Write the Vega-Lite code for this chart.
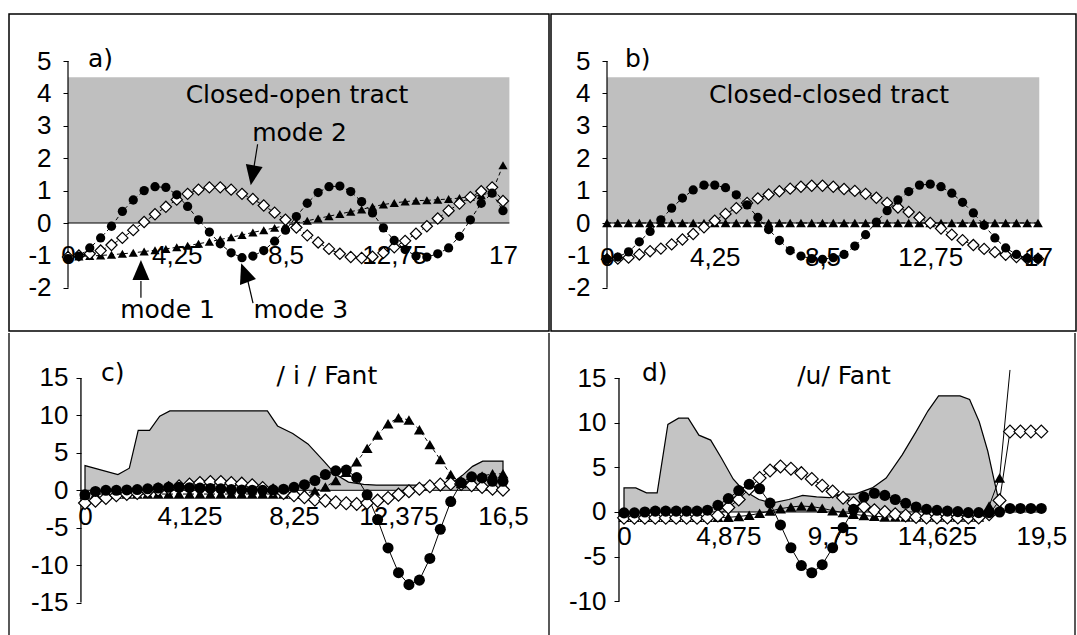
{
 "$schema": "https://vega.github.io/schema/vega-lite/v6.json",
 "padding": {"left": 8, "top": 13, "right": 0, "bottom": 0},
 "background": "white",
 "config": {
  "view": {"stroke": "black", "strokeWidth": 1.5},
  "axis": {"grid": false, "labelFont": "Liberation Sans", "labelFontSize": 26, "labelColor": "black", "tickColor": "black", "tickWidth": 1, "labelOverlap": false, "labelFlush": false, "labelBound": false},
  "text": {"font": "DejaVu Sans", "fontSize": 25, "color": "black"}
 },
 "spacing": 0,
 "vconcat": [
  {"spacing": 0, "hconcat": [
   {
    "width": 540, "height": 317,
    "data": {"name": "a"},
    "encoding": {
     "x": {"field": "x", "type": "quantitative", "scale": {"domain": [-2.306, 18.798], "nice": false, "zero": false},
      "axis": {"title": null, "orient": "bottom", "offset": -108, "values": [0, 4.25, 8.5, 12.75, 17], "ticks": false, "domain": false, "labelPadding": 19, "labelExpr": "replace(toString(datum.value), '.', ',')"}},
     "y": {"field": "y", "type": "quantitative", "scale": {"domain": [-3.333, 6.451], "nice": false, "zero": false},
      "axis": {"title": null, "orient": "left", "offset": -59, "values": [-2, -1, 0, 1, 2, 3, 4, 5], "tickSize": 5, "domain": false, "labelPadding": 12, "labelExpr": "toString(datum.value)"}}
    },
    "layer": [
     {"data": {"values": [{"x": 0, "x2": 17.25, "y": 0, "y2": 4.5}]}, "mark": {"type": "rect", "color": "#bfbfbf"}, "encoding": {"x2": {"field": "x2"}, "y2": {"field": "y2"}}},
     {"data": {"values": [{"x": 0, "x2": 17.25, "y": 0}]}, "mark": {"type": "rule", "color": "black", "strokeWidth": 1.2}, "encoding": {"x2": {"field": "x2"}}},
     {"data": {"values": [{"x": 0, "y": -2, "y2": 5}]}, "mark": {"type": "rule", "color": "black", "strokeWidth": 1.2}, "encoding": {"y2": {"field": "y2"}}},
     {"transform": [{"fold": ["t"], "as": ["s", "y"]}], "mark": {"type": "line", "color": "black", "strokeWidth": 1, "strokeDash": [4, 3]}},
     {"transform": [{"fold": ["d"], "as": ["s", "y"]}], "mark": {"type": "line", "color": "black", "strokeWidth": 1, "strokeDash": [4, 3]}},
     {"transform": [{"fold": ["c"], "as": ["s", "y"]}], "mark": {"type": "line", "color": "black", "strokeWidth": 1, "strokeDash": [4, 3]}},
     {"transform": [{"fold": ["t"], "as": ["s", "y"]}], "mark": {"type": "point", "shape": "triangle-up", "filled": true, "fill": "black", "size": 85, "opacity": 1}},
     {"transform": [{"fold": ["d"], "as": ["s", "y"]}], "mark": {"type": "point", "shape": "diamond", "filled": true, "fill": "white", "stroke": "black", "strokeWidth": 1.2, "size": 125, "opacity": 1}},
     {"transform": [{"fold": ["c"], "as": ["s", "y"]}], "mark": {"type": "circle", "color": "black", "size": 86, "opacity": 1}},
     {"data": {"values": [{"x": 0.78, "y": 5.05, "label": "a)"}]}, "mark": {"type": "text", "align": "left", "baseline": "middle"}, "encoding": {"text": {"field": "label"}}},
     {"data": {"values": [{"x": 8.95, "y": 3.95, "label": "Closed-open tract"}]}, "mark": {"type": "text", "align": "center", "baseline": "middle"}, "encoding": {"text": {"field": "label"}}},
     {"data": {"values": [{"x": 9.05, "y": 2.53, "label": "mode 2"}, {"x": 3.89, "y": -2.93, "label": "mode 1"}, {"x": 9.1, "y": -2.93, "label": "mode 3"}]}, "mark": {"type": "text", "align": "center", "baseline": "alphabetic"}, "encoding": {"text": {"field": "label"}}},
     {"data": {"values": [{"x": 7.41, "y": 2.43, "x2": 7.27, "y2": 1.74}, {"x": 2.85, "y": -1.79, "x2": 2.85, "y2": -2.31}, {"x": 7.03, "y": -1.79, "x2": 7.23, "y2": -2.47}]}, "mark": {"type": "rule", "color": "black", "strokeWidth": 1.2}, "encoding": {"x2": {"field": "x2"}, "y2": {"field": "y2"}}},
     {"data": {"values": [{"x": 7.21, "y": 1.47, "a": 190}, {"x": 2.85, "y": -1.45, "a": 0}, {"x": 6.9, "y": -1.53, "a": 340}]}, "mark": {"type": "point", "shape": "M0,-1L0.85,1L-0.85,1Z", "filled": true, "fill": "black", "size": 400, "opacity": 1}, "encoding": {"angle": {"field": "a", "type": "quantitative", "scale": null}}}
    ]
   },
   {
    "width": 525, "height": 317,
    "data": {"name": "b"},
    "encoding": {
     "x": {"field": "x", "type": "quantitative", "scale": {"domain": [-2.209, 18.499], "nice": false, "zero": false},
      "axis": {"title": null, "orient": "bottom", "offset": -108, "values": [0, 4.25, 8.5, 12.75, 17], "ticks": false, "domain": false, "labelPadding": 21, "labelExpr": "replace(toString(datum.value), '.', ',')"}},
     "y": {"field": "y", "type": "quantitative", "scale": {"domain": [-3.333, 6.451], "nice": false, "zero": false},
      "axis": {"title": null, "orient": "left", "offset": -56, "values": [-2, -1, 0, 1, 2, 3, 4, 5], "tickSize": 5, "domain": false, "labelPadding": 12, "labelExpr": "toString(datum.value)"}}
    },
    "layer": [
     {"data": {"values": [{"x": 0, "x2": 17.05, "y": 0, "y2": 4.5}]}, "mark": {"type": "rect", "color": "#bfbfbf"}, "encoding": {"x2": {"field": "x2"}, "y2": {"field": "y2"}}},
     {"data": {"values": [{"x": 0, "x2": 17.05, "y": 0}]}, "mark": {"type": "rule", "color": "black", "strokeWidth": 1.2}, "encoding": {"x2": {"field": "x2"}}},
     {"data": {"values": [{"x": 0, "y": -2, "y2": 5}]}, "mark": {"type": "rule", "color": "black", "strokeWidth": 1.2}, "encoding": {"y2": {"field": "y2"}}},
     {"transform": [{"fold": ["t"], "as": ["s", "y"]}], "mark": {"type": "line", "color": "black", "strokeWidth": 1, "strokeDash": [4, 3]}},
     {"transform": [{"fold": ["d"], "as": ["s", "y"]}], "mark": {"type": "line", "color": "black", "strokeWidth": 1, "strokeDash": [4, 3]}},
     {"transform": [{"fold": ["c"], "as": ["s", "y"]}], "mark": {"type": "line", "color": "black", "strokeWidth": 1, "strokeDash": [4, 3]}},
     {"transform": [{"fold": ["t"], "as": ["s", "y"]}], "mark": {"type": "point", "shape": "triangle-up", "filled": true, "fill": "black", "size": 95, "opacity": 1}},
     {"transform": [{"fold": ["d"], "as": ["s", "y"]}], "mark": {"type": "point", "shape": "diamond", "filled": true, "fill": "white", "stroke": "black", "strokeWidth": 1.2, "size": 125, "opacity": 1}},
     {"transform": [{"fold": ["c"], "as": ["s", "y"]}], "mark": {"type": "circle", "color": "black", "size": 86, "opacity": 1}},
     {"data": {"values": [{"x": 0.71, "y": 5.05, "label": "b)"}]}, "mark": {"type": "text", "align": "left", "baseline": "middle"}, "encoding": {"text": {"field": "label"}}},
     {"data": {"values": [{"x": 8.76, "y": 3.95, "label": "Closed-closed tract"}]}, "mark": {"type": "text", "align": "center", "baseline": "middle"}, "encoding": {"text": {"field": "label"}}}
    ]
   }
  ]},
  {"spacing": 0, "hconcat": [
   {
    "width": 540, "height": 305,
    "view": {"stroke": null},
    "data": {"name": "c"},
    "encoding": {
     "x": {"field": "x", "type": "quantitative", "scale": {"domain": [-3.0, 18.316], "nice": false, "zero": false},
      "axis": {"title": null, "orient": "bottom", "offset": -147.7, "values": [0, 4.125, 8.25, 12.375, 16.5], "ticks": false, "domain": false, "labelPadding": 13, "labelExpr": "replace(toString(datum.value), '.', ',')"}},
     "y": {"field": "y", "type": "quantitative", "scale": {"domain": [-19.727, 21.01], "nice": false, "zero": false},
      "axis": {"title": null, "orient": "left", "offset": -72, "values": [-15, -10, -5, 0, 5, 10, 15], "tickSize": 5, "domain": false, "labelPadding": 8, "labelExpr": "toString(datum.value)"}}
    },
    "layer": [
     {"data": {"name": "ca"}, "transform": [{"filter": "datum.o > 0 && datum.o < 22"}], "mark": {"type": "area", "color": "#c4c4c4", "opacity": 1, "orient": "vertical"}, "encoding": {"y2": {"datum": 0}}},
     {"data": {"name": "ca"}, "mark": {"type": "line", "color": "black", "strokeWidth": 1.2}, "encoding": {"order": {"field": "o", "type": "quantitative"}}},
     {"data": {"values": [{"x": -0.16, "y": -15, "y2": 15}, {"x": -3.0, "y": -19.727, "y2": 21.01}, {"x": 18.316, "y": -19.727, "y2": 21.01}]}, "mark": {"type": "rule", "color": "black", "strokeWidth": 1.3}, "encoding": {"y2": {"field": "y2"}}},
     {"data": {"values": [{"x": -0.16, "x2": 16.5, "y": 0}]}, "mark": {"type": "rule", "color": "black", "strokeWidth": 1}, "encoding": {"x2": {"field": "x2"}}},
     {"transform": [{"fold": ["t"], "as": ["s", "y"]}], "mark": {"type": "line", "color": "black", "strokeWidth": 1, "strokeDash": [4, 3]}},
     {"transform": [{"fold": ["d"], "as": ["s", "y"]}], "mark": {"type": "line", "color": "black", "strokeWidth": 1}},
     {"transform": [{"fold": ["c"], "as": ["s", "y"]}], "mark": {"type": "line", "color": "black", "strokeWidth": 1}},
     {"transform": [{"fold": ["t"], "as": ["s", "y"]}], "mark": {"type": "point", "shape": "triangle-up", "filled": true, "fill": "black", "size": 120, "opacity": 1}},
     {"transform": [{"fold": ["d"], "as": ["s", "y"]}], "mark": {"type": "point", "shape": "diamond", "filled": true, "fill": "white", "stroke": "black", "strokeWidth": 1.2, "size": 165, "opacity": 1}},
     {"transform": [{"fold": ["c"], "as": ["s", "y"]}], "mark": {"type": "circle", "color": "black", "size": 122, "opacity": 1}},
     {"data": {"values": [{"x": 0.63, "y": 15.67, "label": "c)"}]}, "mark": {"type": "text", "align": "left", "baseline": "middle"}, "encoding": {"text": {"field": "label"}}},
     {"data": {"values": [{"x": 9.55, "y": 15.2, "label": "/ i / Fant"}]}, "mark": {"type": "text", "align": "center", "baseline": "middle"}, "encoding": {"text": {"field": "label"}}}
    ]
   },
   {
    "width": 525, "height": 305,
    "view": {"stroke": null},
    "data": {"name": "d"},
    "encoding": {
     "x": {"field": "x", "type": "quantitative", "scale": {"domain": [-3.458, 21.075], "nice": false, "zero": false},
      "axis": {"title": null, "orient": "bottom", "offset": -126, "values": [0, 4.875, 9.75, 14.625, 19.5], "ticks": false, "domain": false, "labelPadding": 11, "labelExpr": "replace(toString(datum.value), '.', ',')"}},
     "y": {"field": "y", "type": "quantitative", "scale": {"domain": [-14.105, 20.038], "nice": false, "zero": false},
      "axis": {"title": null, "orient": "left", "offset": -69, "values": [-10, -5, 0, 5, 10, 15], "tickSize": 5, "domain": false, "labelPadding": 8, "labelExpr": "toString(datum.value)"}}
    },
    "layer": [
     {"data": {"name": "da"}, "transform": [{"filter": "datum.o > 0"}], "mark": {"type": "area", "color": "#c4c4c4", "opacity": 1, "orient": "vertical"}, "encoding": {"y2": {"datum": 0}}},
     {"data": {"name": "da"}, "mark": {"type": "line", "color": "black", "strokeWidth": 1.2}, "encoding": {"order": {"field": "o", "type": "quantitative"}}},
     {"data": {"values": [{"x": -0.234, "y": -10, "y2": 15}, {"x": 21.075, "y": -14.105, "y2": 20.038}]}, "mark": {"type": "rule", "color": "black", "strokeWidth": 1.3}, "encoding": {"y2": {"field": "y2"}}},
     {"data": {"values": [{"x": -0.234, "x2": 19.5, "y": 0}]}, "mark": {"type": "rule", "color": "black", "strokeWidth": 1}, "encoding": {"x2": {"field": "x2"}}},
     {"transform": [{"fold": ["t"], "as": ["s", "y"]}], "mark": {"type": "line", "color": "black", "strokeWidth": 1}},
     {"transform": [{"fold": ["d"], "as": ["s", "y"]}], "mark": {"type": "line", "color": "black", "strokeWidth": 1}},
     {"transform": [{"fold": ["c"], "as": ["s", "y"]}], "mark": {"type": "line", "color": "black", "strokeWidth": 1}},
     {"transform": [{"fold": ["t"], "as": ["s", "y"]}, {"filter": "isValid(datum.y) && datum.y < 15"}], "mark": {"type": "point", "shape": "triangle-up", "filled": true, "fill": "black", "size": 120, "opacity": 1}},
     {"transform": [{"fold": ["d"], "as": ["s", "y"]}], "mark": {"type": "point", "shape": "diamond", "filled": true, "fill": "white", "stroke": "black", "strokeWidth": 1.2, "size": 165, "opacity": 1}},
     {"transform": [{"fold": ["c"], "as": ["s", "y"]}], "mark": {"type": "circle", "color": "black", "size": 122, "opacity": 1}},
     {"data": {"values": [{"x": 0.84, "y": 15.56, "label": "d)"}]}, "mark": {"type": "text", "align": "left", "baseline": "middle"}, "encoding": {"text": {"field": "label"}}},
     {"data": {"values": [{"x": 10.28, "y": 15.18, "label": "/u/ Fant"}]}, "mark": {"type": "text", "align": "center", "baseline": "middle"}, "encoding": {"text": {"field": "label"}}}
    ]
   }
  ]}
 ],
 "datasets": {
  "a": [
   {"x":0,"t":-1.05,"d":-1.05,"c":-1.1},
   {"x":0.425,"t":-1.03,"d":-1.0,"c":-1.02},
   {"x":0.85,"t":-1.02,"d":-0.95,"c":-0.77},
   {"x":1.275,"t":-1.0,"d":-0.85,"c":-0.46},
   {"x":1.7,"t":-0.98,"d":-0.68,"c":-0.1},
   {"x":2.125,"t":-0.95,"d":-0.46,"c":0.36},
   {"x":2.55,"t":-0.92,"d":-0.22,"c":0.71},
   {"x":2.975,"t":-0.88,"d":0.03,"c":1.0},
   {"x":3.4,"t":-0.84,"d":0.27,"c":1.12},
   {"x":3.825,"t":-0.8,"d":0.5,"c":1.1},
   {"x":4.25,"t":-0.75,"d":0.72,"c":0.87},
   {"x":4.675,"t":-0.7,"d":0.9,"c":0.51},
   {"x":5.1,"t":-0.64,"d":1.03,"c":0.1},
   {"x":5.525,"t":-0.58,"d":1.1,"c":-0.28},
   {"x":5.95,"t":-0.51,"d":1.1,"c":-0.64},
   {"x":6.375,"t":-0.44,"d":1.03,"c":-0.92},
   {"x":6.8,"t":-0.37,"d":0.9,"c":-1.07},
   {"x":7.225,"t":-0.29,"d":0.74,"c":-1.02},
   {"x":7.65,"t":-0.22,"d":0.54,"c":-0.85},
   {"x":8.075,"t":-0.15,"d":0.32,"c":-0.56},
   {"x":8.5,"t":-0.08,"d":0.1,"c":-0.22},
   {"x":8.925,"t":0.0,"d":-0.14,"c":0.2},
   {"x":9.35,"t":0.07,"d":-0.38,"c":0.61},
   {"x":9.775,"t":0.14,"d":-0.6,"c":0.94},
   {"x":10.2,"t":0.21,"d":-0.8,"c":1.12},
   {"x":10.625,"t":0.28,"d":-0.95,"c":1.14},
   {"x":11.05,"t":0.35,"d":-1.05,"c":0.97},
   {"x":11.475,"t":0.42,"d":-1.08,"c":0.66},
   {"x":11.9,"t":0.5,"d":-1.04,"c":0.31},
   {"x":12.325,"t":0.57,"d":-0.92,"c":-0.15},
   {"x":12.75,"t":0.62,"d":-0.75,"c":-0.54},
   {"x":13.175,"t":0.66,"d":-0.55,"c":-0.82},
   {"x":13.6,"t":0.69,"d":-0.33,"c":-1.02},
   {"x":14.025,"t":0.7,"d":-0.1,"c":-1.05},
   {"x":14.45,"t":0.72,"d":0.14,"c":-0.95},
   {"x":14.875,"t":0.74,"d":0.38,"c":-0.77},
   {"x":15.3,"t":0.77,"d":0.6,"c":-0.41},
   {"x":15.725,"t":0.81,"d":0.8,"c":0.1},
   {"x":16.15,"t":0.86,"d":0.98,"c":0.61},
   {"x":16.575,"t":0.95,"d":1.1,"c":0.92},
   {"x":17,"t":1.78,"d":0.68,"c":0.38}
  ],
  "b": [
   {"x":0,"t":0,"d":-1.12,"c":-1.12},
   {"x":0.425,"t":0,"d":-1.1,"c":-1.05},
   {"x":0.85,"t":0,"d":-1.07,"c":-0.89},
   {"x":1.275,"t":0,"d":-0.97,"c":-0.58},
   {"x":1.7,"t":0,"d":-0.87,"c":-0.26},
   {"x":2.125,"t":0,"d":-0.79,"c":0.1},
   {"x":2.55,"t":0,"d":-0.66,"c":0.46},
   {"x":2.975,"t":0,"d":-0.51,"c":0.77},
   {"x":3.4,"t":0,"d":-0.34,"c":1.02},
   {"x":3.825,"t":0,"d":-0.13,"c":1.17},
   {"x":4.25,"t":0,"d":0.07,"c":1.17},
   {"x":4.675,"t":0,"d":0.28,"c":1.09},
   {"x":5.1,"t":0,"d":0.46,"c":0.87},
   {"x":5.525,"t":0,"d":0.62,"c":0.56},
   {"x":5.95,"t":0,"d":0.76,"c":0.17},
   {"x":6.375,"t":0,"d":0.88,"c":-0.2},
   {"x":6.8,"t":0,"d":0.98,"c":-0.54},
   {"x":7.225,"t":0,"d":1.06,"c":-0.85},
   {"x":7.65,"t":0,"d":1.12,"c":-1.02},
   {"x":8.075,"t":0,"d":1.15,"c":-1.1},
   {"x":8.5,"t":0,"d":1.15,"c":-1.12},
   {"x":8.925,"t":0,"d":1.12,"c":-1.07},
   {"x":9.35,"t":0,"d":1.05,"c":-0.97},
   {"x":9.775,"t":0,"d":0.99,"c":-0.71},
   {"x":10.2,"t":0,"d":0.9,"c":-0.36},
   {"x":10.625,"t":0,"d":0.78,"c":0.03},
   {"x":11.05,"t":0,"d":0.62,"c":0.38},
   {"x":11.475,"t":0,"d":0.48,"c":0.71},
   {"x":11.9,"t":0,"d":0.34,"c":0.97},
   {"x":12.325,"t":0,"d":0.17,"c":1.17},
   {"x":12.75,"t":0,"d":0.0,"c":1.2},
   {"x":13.175,"t":0,"d":-0.17,"c":1.12},
   {"x":13.6,"t":0,"d":-0.36,"c":0.92},
   {"x":14.025,"t":0,"d":-0.53,"c":0.64},
   {"x":14.45,"t":0,"d":-0.68,"c":0.31},
   {"x":14.875,"t":0,"d":-0.8,"c":-0.07},
   {"x":15.3,"t":0,"d":-0.9,"c":-0.46},
   {"x":15.725,"t":0,"d":-0.98,"c":-0.77},
   {"x":16.15,"t":0,"d":-1.05,"c":-0.97},
   {"x":16.575,"t":0,"d":-1.1,"c":-1.09},
   {"x":17,"t":0,"d":-1.1,"c":-1.1}
  ],
  "c": [
   {"x":0,"t":-0.5,"d":-1.7,"c":-0.6},
   {"x":0.4125,"t":-0.5,"d":-1.38,"c":-0.15},
   {"x":0.825,"t":-0.5,"d":-1.02,"c":0},
   {"x":1.2375,"t":-0.5,"d":-0.67,"c":0},
   {"x":1.65,"t":-0.5,"d":-0.49,"c":0.05},
   {"x":2.0625,"t":-0.5,"d":-0.36,"c":0.1},
   {"x":2.475,"t":-0.5,"d":-0.13,"c":0.2},
   {"x":2.8875,"t":-0.5,"d":0.09,"c":0.3},
   {"x":3.3,"t":-0.5,"d":0.31,"c":0.4},
   {"x":3.7125,"t":-0.5,"d":0.53,"c":0.4},
   {"x":4.125,"t":-0.5,"d":0.76,"c":0.35},
   {"x":4.5375,"t":-0.5,"d":0.98,"c":0.3},
   {"x":4.95,"t":-0.5,"d":1.11,"c":0.25},
   {"x":5.3625,"t":-0.5,"d":1.11,"c":0.2},
   {"x":5.775,"t":-0.5,"d":0.98,"c":0.1},
   {"x":6.1875,"t":-0.5,"d":0.89,"c":0.05},
   {"x":6.6,"t":-0.5,"d":0.67,"c":0},
   {"x":7.0125,"t":-0.5,"d":0.31,"c":0},
   {"x":7.425,"t":-0.5,"d":-0.04,"c":0.05},
   {"x":7.8375,"t":-0.5,"d":-0.36,"c":0.15},
   {"x":8.25,"t":-0.5,"d":-0.67,"c":0.4},
   {"x":8.6625,"t":-0.4,"d":-0.93,"c":0.75},
   {"x":9.075,"t":-0.1,"d":-1.25,"c":1.3},
   {"x":9.4875,"t":0.45,"d":-1.38,"c":2.1},
   {"x":9.9,"t":1.3,"d":-1.6,"c":2.6},
   {"x":10.3125,"t":2.4,"d":-1.74,"c":2.7},
   {"x":10.725,"t":3.8,"d":-1.83,"c":1.7},
   {"x":11.1375,"t":5.6,"d":-1.7,"c":-0.6},
   {"x":11.55,"t":7.4,"d":-1.38,"c":-3.9},
   {"x":11.9625,"t":8.9,"d":-1.02,"c":-7.7},
   {"x":12.375,"t":9.7,"d":-0.58,"c":-11.0},
   {"x":12.7875,"t":9.4,"d":-0.13,"c":-12.6},
   {"x":13.2,"t":8.1,"d":0.22,"c":-12.0},
   {"x":13.6125,"t":6.1,"d":0.53,"c":-9.1},
   {"x":14.025,"t":4.1,"d":0.76,"c":-5.2},
   {"x":14.4375,"t":2.1,"d":0.89,"c":-1.5},
   {"x":14.85,"t":0.9,"d":0.85,"c":1.0},
   {"x":15.2625,"t":1.4,"d":0.67,"c":1.8},
   {"x":15.675,"t":1.9,"d":0.45,"c":1.65},
   {"x":16.0875,"t":2.2,"d":0.22,"c":1.2},
   {"x":16.5,"t":2.2,"d":0.09,"c":1.2}
  ],
  "d": [
   {"x":0,"t":-0.6,"d":-0.65,"c":-0.1},
   {"x":0.4875,"t":-0.6,"d":-0.65,"c":-0.1},
   {"x":0.975,"t":-0.6,"d":-0.65,"c":0},
   {"x":1.4625,"t":-0.6,"d":-0.65,"c":0.1},
   {"x":1.95,"t":-0.6,"d":-0.65,"c":0.1},
   {"x":2.4375,"t":-0.6,"d":-0.65,"c":0.1},
   {"x":2.925,"t":-0.6,"d":-0.65,"c":0.1},
   {"x":3.4125,"t":-0.6,"d":-0.65,"c":0.1},
   {"x":3.9,"t":-0.6,"d":-0.65,"c":0.2},
   {"x":4.3875,"t":-0.6,"d":-0.4,"c":0.75},
   {"x":4.875,"t":-0.6,"d":0.5,"c":1.5},
   {"x":5.3625,"t":-0.5,"d":1.4,"c":2.4},
   {"x":5.85,"t":-0.37,"d":2.6,"c":3.1},
   {"x":6.3375,"t":-0.15,"d":3.8,"c":2.6},
   {"x":6.825,"t":0.1,"d":4.65,"c":1.0},
   {"x":7.3125,"t":0.37,"d":5.1,"c":-1.45},
   {"x":7.8,"t":0.56,"d":4.85,"c":-4.0},
   {"x":8.2875,"t":0.67,"d":4.35,"c":-6.0},
   {"x":8.775,"t":0.6,"d":3.7,"c":-6.8},
   {"x":9.2625,"t":0.42,"d":2.95,"c":-5.9},
   {"x":9.75,"t":0.15,"d":2.3,"c":-4.0},
   {"x":10.2375,"t":-0.07,"d":1.6,"c":-1.75},
   {"x":10.725,"t":-0.25,"d":1.0,"c":0.3},
   {"x":11.2125,"t":-0.4,"d":0.6,"c":1.67},
   {"x":11.7,"t":-0.48,"d":0.2,"c":2.1},
   {"x":12.1875,"t":-0.55,"d":0.0,"c":1.86},
   {"x":12.675,"t":-0.55,"d":-0.25,"c":1.4},
   {"x":13.1625,"t":-0.55,"d":-0.4,"c":0.97},
   {"x":13.65,"t":-0.55,"d":-0.55,"c":0.56},
   {"x":14.1375,"t":-0.55,"d":-0.62,"c":0.3},
   {"x":14.625,"t":-0.55,"d":-0.62,"c":0.19},
   {"x":15.1125,"t":-0.55,"d":-0.62,"c":0.1},
   {"x":15.6,"t":-0.55,"d":-0.62,"c":0.04},
   {"x":16.0875,"t":-0.55,"d":-0.62,"c":-0.07},
   {"x":16.575,"t":-0.55,"d":-0.62,"c":-0.07},
   {"x":17.0625,"t":0.67,"d":-0.25,"c":-0.07},
   {"x":17.55,"t":3.8,"d":1.3,"c":0},
   {"x":18.0375,"t":15.9,"d":9.0,"c":0.4},
   {"x":18.525,"t":null,"d":9.0,"c":0.4},
   {"x":19.0125,"t":null,"d":9.0,"c":0.4},
   {"x":19.5,"t":null,"d":9.0,"c":0.4}
  ],
  "ca": [
   {"o":0,"x":0,"y":0},{"o":1,"x":0,"y":3.3},{"o":2,"x":1.3,"y":2.1},{"o":3,"x":1.75,"y":2.95},{"o":4,"x":2.1,"y":8.0},{"o":5,"x":2.55,"y":8.0},{"o":6,"x":2.95,"y":9.9},{"o":7,"x":3.35,"y":10.6},{"o":8,"x":7.2,"y":10.6},{"o":9,"x":7.6,"y":8.6},{"o":10,"x":8.2,"y":7.6},{"o":11,"x":8.8,"y":6.2},{"o":12,"x":9.4,"y":4.0},{"o":13,"x":9.9,"y":2.1},{"o":14,"x":10.4,"y":1.1},{"o":15,"x":11.0,"y":0.8},{"o":16,"x":11.5,"y":0.7},{"o":17,"x":14.4,"y":0.7},{"o":18,"x":14.9,"y":2.0},{"o":19,"x":15.3,"y":3.2},{"o":20,"x":15.7,"y":3.9},{"o":21,"x":16.5,"y":3.9},{"o":22,"x":16.5,"y":0}
  ],
  "da": [
   {"o":0,"x":0,"y":0},{"o":1,"x":0,"y":2.7},{"o":2,"x":0.55,"y":2.7},{"o":3,"x":1.05,"y":2.15},{"o":4,"x":1.55,"y":2.15},{"o":5,"x":2.05,"y":9.8},{"o":6,"x":2.55,"y":10.5},{"o":7,"x":3.0,"y":10.5},{"o":8,"x":3.5,"y":8.6},{"o":9,"x":4.05,"y":8.05},{"o":10,"x":4.55,"y":6.05},{"o":11,"x":5.1,"y":3.7},{"o":12,"x":5.55,"y":2.5},{"o":13,"x":6.3,"y":1.4},{"o":14,"x":6.9,"y":1.0},{"o":15,"x":7.7,"y":1.4},{"o":16,"x":8.35,"y":1.85},{"o":17,"x":9.0,"y":1.7},{"o":18,"x":9.6,"y":1.6},{"o":19,"x":10.2,"y":2.0},{"o":20,"x":10.8,"y":2.0},{"o":21,"x":11.6,"y":2.7},{"o":22,"x":12.25,"y":3.8},{"o":23,"x":13.0,"y":6.4},{"o":24,"x":13.65,"y":9.0},{"o":25,"x":14.2,"y":11.3},{"o":26,"x":14.7,"y":13.0},{"o":27,"x":15.7,"y":13.0},{"o":28,"x":16.15,"y":12.6},{"o":29,"x":16.6,"y":10.1},{"o":30,"x":17.0,"y":6.8},{"o":31,"x":17.3,"y":3.5},{"o":32,"x":17.55,"y":0.9},{"o":33,"x":17.75,"y":0}
  ]
 }
}
